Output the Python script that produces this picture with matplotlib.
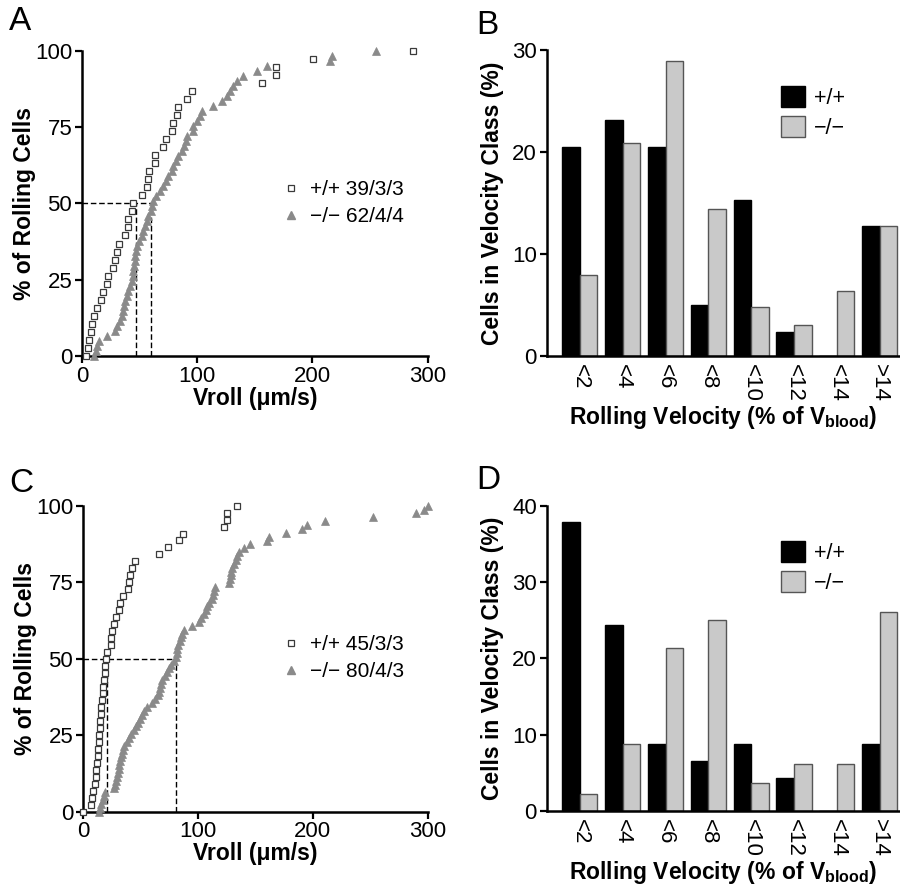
import matplotlib
matplotlib.use("Agg")
import matplotlib.pyplot as plt
from matplotlib.patches import Patch
from matplotlib.lines import Line2D
import numpy as np

plt.rcParams['font.family'] = ['Liberation Sans', 'DejaVu Sans']
plt.rcParams['mathtext.fontset'] = 'custom'
plt.rcParams['mathtext.rm'] = 'Liberation Sans'
plt.rcParams['mathtext.bf'] = 'Liberation Sans:bold'

# ---------------- Data ----------------
# Panel A: cumulative rolling velocity (um/s)
a_wt_x = [3.5, 5.5, 6.4, 7.8, 8.7, 10.7, 12.7, 16.5, 18.5, 21.5, 22.5, 26.6, 28.6, 30.0,
          32.4, 37.3, 39.6, 40.2, 43.7, 44.0, 51.8, 56.1, 57.6, 57.9, 63.1, 63.6, 70.0,
          72.6, 77.8, 78.7, 82.2, 83.0, 90.8, 95.7, 155.9, 168.4, 168.4, 200.7, 287.5]
a_ko_x = [10.7, 11.9, 12.7, 15.0, 21.4, 28.6, 30.1, 33.0, 34.4, 35.9, 36.4, 37.3, 38.8,
          40.2, 41.7, 43.1, 44.0, 44.5, 45.1, 45.7, 46.3, 46.9, 48.0, 49.8, 51.8, 53.2,
          54.7, 56.1, 57.6, 59.6, 60.5, 61.9, 63.9, 67.7, 70.6, 72.6, 74.9, 77.8, 79.3,
          81.3, 83.6, 86.5, 88.5, 90.3, 91.4, 96.0, 96.6, 99.5, 102.4, 104.4, 114.0,
          121.2, 125.5, 128.4, 131.3, 134.2, 139.4, 152.2, 160.3, 215.2, 216.7, 255.1]
a_medians = [46.5, 60.0]
a_labels = ['+/+ 39/3/3', '\u2212/\u2212 62/4/4']

# Panel C
c_wt_x = [0.0, 6.7, 7.8, 9.0, 10.2, 11.0, 11.6, 12.2, 12.8, 13.3, 13.6, 14.2, 14.5, 15.1,
          15.4, 16.0, 16.5, 17.1, 17.7, 18.3, 18.9, 19.1, 20.0, 21.2, 24.1, 24.7, 25.5,
          26.7, 29.0, 31.1, 32.2, 35.1, 39.2, 40.0, 41.2, 42.9, 45.0, 66.1, 73.7, 83.8,
          86.7, 123.0, 125.0, 125.6, 133.7]
c_ko_x = [14, 15, 16, 17, 18, 19, 27, 28, 29, 30, 30.5, 31, 31.5, 32, 33, 34, 35, 36, 38,
          40, 42, 44, 46, 48, 50, 51, 53, 56, 60, 63, 65, 66, 67, 68, 69, 71, 73, 75, 77,
          79, 81, 81.5, 82, 83, 84, 85, 86, 88, 95, 101, 103, 105, 107, 108, 110, 112,
          113, 114, 115, 127, 128, 128.5, 129, 129.5, 131, 133, 134, 136, 140, 145, 160,
          162, 177, 191, 195, 211, 252, 290, 297, 300]
c_medians = [21.2, 80.9]
c_labels = ['+/+ 45/3/3', '\u2212/\u2212 80/4/3']

# Panels B and D: velocity class histograms
classes = ['<2', '<4', '<6', '<8', '<10', '<12', '<14', '>14']
b_wt = [20.5, 23.1, 20.5, 5.0, 15.3, 2.4, 0.0, 12.7]
b_ko = [7.9, 20.9, 28.9, 14.4, 4.8, 3.0, 6.4, 12.7]
d_wt = [37.8, 24.4, 8.8, 6.5, 8.8, 4.3, 0.0, 8.8]
d_ko = [2.2, 8.8, 21.3, 25.0, 3.7, 6.2, 6.2, 26.1]
legend_bar = ['+/+', '\u2212/\u2212']

# ---------------- Figure ----------------
W, H = 900, 894
fig = plt.figure(figsize=(W / 100, H / 100), dpi=100)

def fax(x0, y_bot, x1, y_top):
    return fig.add_axes([x0 / W, (H - y_bot) / H, (x1 - x0) / W, (y_bot - y_top) / H])

ax_a = fax(82, 356, 427.7, 50.7)
ax_b = fax(546.7, 356, 899, 50)
ax_c = fax(83, 811.7, 427.7, 505.7)
ax_d = fax(546.7, 811, 899, 505.7)

TICK_FS = 16
LAB_FS = 16.5
SQ_EDGE = '#3a3a3a'
TRI_COL = '#8a8a8a'

def style(ax):
    for s in ['top', 'right']:
        ax.spines[s].set_visible(False)
    for s in ['left', 'bottom']:
        ax.spines[s].set_linewidth(1.8)
    ax.tick_params(axis='both', width=1.6, length=5, labelsize=TICK_FS, pad=2)

def cdf_panel(ax, wt, ko, med, labels, leg_y):
    style(ax)
    n1, n2 = len(wt), len(ko)
    y1 = np.arange(n1) / (n1 - 1) * 100
    y2 = np.arange(n2) / (n2 - 1) * 100
    ax.plot([0, med[1]], [50, 50], color='black', lw=1.0, ls=(0, (4, 2)), zorder=1)
    for m in med:
        ax.plot([m, m], [0, 50], color='black', lw=1.0, ls=(0, (4, 2)), zorder=1)
    ax.plot(ko, y2, ls='none', marker='^', ms=6, mfc=TRI_COL, mec=TRI_COL,
            mew=0.5, clip_on=False, zorder=3)
    ax.plot(wt, y1, ls='none', marker='s', ms=5, mfc='white', mec=SQ_EDGE,
            mew=0.9, clip_on=False, zorder=4)
    ax.set_xlim(0, 300)
    ax.set_ylim(0, 100)
    ax.set_xticks([0, 100, 200, 300])
    ax.set_yticks([0, 25, 50, 75, 100])
    ax.set_xlabel('Vroll (\u03bcm/s)', fontsize=LAB_FS, fontweight='bold', labelpad=0)
    ax.set_ylabel('% of Rolling Cells', fontsize=LAB_FS, fontweight='bold', labelpad=-1)
    handles = [Line2D([], [], ls='none', marker='s', ms=5, mfc='white', mec=SQ_EDGE, mew=0.9),
               Line2D([], [], ls='none', marker='^', ms=6, mfc=TRI_COL, mec=TRI_COL)]
    ax.legend(handles, labels, loc='center left', bbox_to_anchor=(272 / W, leg_y),
              bbox_transform=fig.transFigure, frameon=False, fontsize=15,
              handlelength=0.8, handletextpad=0.5, labelspacing=0.4, borderpad=0)

def bar_panel(ax, wt, ko, ymax, leg_y):
    style(ax)
    x = np.arange(len(classes))
    w = 0.41
    ax.bar(x - w / 2, wt, width=w, color='black', edgecolor='black', lw=1.0, zorder=2)
    ax.bar(x + w / 2, ko, width=w, color='#c9c9c9', edgecolor='#555555', lw=1.0, zorder=2)
    ax.set_xlim(-0.775, 7.45)
    ax.set_ylim(0, ymax)
    ax.set_yticks(np.arange(0, ymax + 1, 10))
    ax.set_xticks(x)
    ax.set_xticklabels(classes, rotation=-90, va='top', ha='center')
    ax.tick_params(axis='x', length=0, pad=6)
    ax.set_ylabel('Cells in Velocity Class (%)', fontsize=LAB_FS, fontweight='bold', labelpad=6)
    ax.set_xlabel(r'Rolling Velocity (% of V$_{\mathbf{blood}}$)', fontsize=LAB_FS,
                  fontweight='bold', labelpad=1)
    handles = [Patch(facecolor='black', edgecolor='black', lw=1.0),
               Patch(facecolor='#c9c9c9', edgecolor='#555555', lw=1.0)]
    ax.legend(handles, legend_bar, loc='upper left', bbox_to_anchor=(781 / W, leg_y),
              bbox_transform=fig.transFigure, frameon=False, fontsize=15.5,
              handlelength=1.1, handleheight=1.1, handletextpad=0.45,
              labelspacing=0.35, borderpad=0, borderaxespad=0)

cdf_panel(ax_a, a_wt_x, a_ko_x, a_medians, a_labels, (H - 203) / H)
cdf_panel(ax_c, c_wt_x, c_ko_x, c_medians, c_labels, (H - 658) / H)
bar_panel(ax_b, b_wt, b_ko, 30, (H - 86) / H)
bar_panel(ax_d, d_wt, d_ko, 40, (H - 541) / H)

for lab, x, y in [('A', 9, 6), ('B', 476, 10), ('C', 9, 468), ('D', 476, 465)]:
    fig.text(x / W, 1 - y / H, lab, fontsize=24, va='top', ha='left')

fig.savefig('out.png', dpi=100)
